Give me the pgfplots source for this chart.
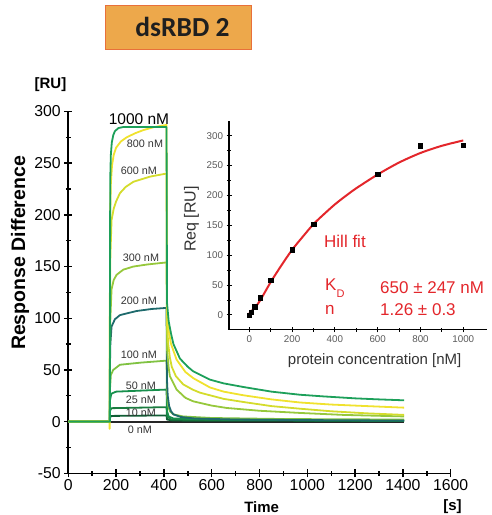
\documentclass[border=0pt]{standalone}
\usepackage{fontspec}
\setmainfont{Liberation Sans}
\newfontfamily\titlefont{Carlito}
\usepackage{pgfplots}
\pgfplotsset{compat=1.18}

\definecolor{titlefill}{HTML}{EDA84B}
\definecolor{titleedge}{HTML}{E8703A}
\definecolor{cA}{HTML}{1DA05A}  % 1000
\definecolor{cB}{HTML}{F0E22E}  % 800
\definecolor{cC}{HTML}{D4DC2C}  % 600
\definecolor{cD}{HTML}{96C83C}  % 300
\definecolor{cE}{HTML}{1E6A6C}  % 200
\definecolor{cF}{HTML}{80C242}  % 100
\definecolor{cG}{HTML}{178F4C}  % 50
\definecolor{cH}{HTML}{1B7D40}  % 25
\definecolor{cI}{HTML}{0F5E34}  % 10
\definecolor{fitred}{HTML}{E3262B}
\definecolor{lab}{HTML}{333333}

\newcommand\fs[1]{\fontsize{#1}{#1}\selectfont}

\begin{document}
\begin{tikzpicture}
\path[use as bounding box] (0pt,0pt) rectangle (491pt,515pt);

% title box
\draw[titleedge, line width=1pt, fill=titlefill] (105.3pt,465pt) rectangle (251.7pt,509.7pt);
\node[anchor=base, inner sep=0] at (182.5pt,478pt) {\titlefont\bfseries\fs{27.5}\color{black!88}dsRBD 2};

% sensorgrams
\begin{axis}[
  at={(68.3pt,41.7pt)}, anchor=south west,
  scale only axis, width=382.4pt, height=361.8pt,
  xmin=0, xmax=1600, ymin=-50, ymax=300,
  axis x line=bottom, axis y line=left,
  axis line style={-, line width=1.6pt},
  xtick={0,200,...,1600}, ytick={-50,0,...,300},
  minor x tick num=1, minor y tick num=1,
  tick align=center, major tick length=8pt, minor tick length=5pt,
  every tick/.style={black, line width=1.4pt},
  ticklabel style={font=\fs{15.8}},
  xticklabel style={yshift=1pt},
  /pgf/number format/assume math mode=true,
  /pgf/number format/set thousands separator={},
  every axis plot/.append style={line width=1.8pt, line join=round},
]
\addplot[black!85] coordinates {(0,0) (1405,0)};
\addplot[cI] coordinates {(0,0) (173,0) (174,4) (180,5.5) (411,6) (413,2) (440,1) (1405,0.5)};
\addplot[cH] coordinates {(0,0) (173,0) (174,10) (180,13) (411,14) (413,5) (430,2) (1405,1)};
\addplot[cG] coordinates {(0,0) (173,0) (174,20) (180,27) (200,29) (411,31) (413,10) (420,5) (440,3) (600,2) (1405,1)};
\addplot[cF] coordinates {(0,0) (173,0) (174,30) (178,45) (188,50) (216,55) (300,57) (411,59) (413,25) (418,15) (425,10) (440,7) (480,5) (600,3.5) (900,2.5) (1405,2)};
\addplot[cE] coordinates {(0,0) (173,0) (174,50) (176,75) (181,92) (195,99) (216,103) (250,105) (286,107) (350,109) (411,110) (413,40) (416,25) (422,15) (430,10) (440,7) (470,4.5) (530,3) (700,2) (1000,1.5) (1405,1)};
\addplot[cD] coordinates {(0,0) (173,0) (174,60) (176,100) (181,128) (190,137) (202,142) (230,147) (272,150) (330,152) (411,154) (413,70) (420,52) (425,44) (453,31) (490,23) (523,19.6) (600,15.5) (663,13.2) (800,10.5) (969,8.4) (1150,6.5) (1405,5)};
\addplot[cC] coordinates {(0,0) (173,0) (174,100) (176,160) (181,195) (190,206) (200,213) (216,221) (240,227) (272,232) (342,237) (411,240) (413,95) (418,75) (425,62) (433,53) (450,44) (481,36) (520,31) (551,28) (650,22) (732,19) (850,15) (969,12.5) (1100,10) (1250,8) (1405,6.5)};
\addplot[cB] coordinates {(0,0) (172,0) (173,-7) (174,120) (175,200) (178,230) (183,248) (190,258) (200,265) (220,271) (244,275) (280,279) (314,282) (360,285) (411,287) (413,110) (420,88) (430,75) (453,60) (490,48) (523,42) (593,33) (650,29) (732,25.5) (850,21.5) (969,18.5) (1100,16.5) (1250,15) (1405,13.5)};
\addplot[cA] coordinates {(0,0) (173,0) (174,0) (175,200) (176,240) (178,258) (182,270) (188,277) (195,281) (210,284) (230,285) (411,285) (413,115) (420,97) (430,85) (440,75) (467,61) (500,53) (523,48.6) (593,40.6) (650,37) (732,33.5) (850,29) (969,26) (1067,24.4) (1200,22.5) (1300,21.5) (1405,20.6)};
\end{axis}

% inset: Hill fit
\begin{axis}[
  at={(229pt,185.1pt)}, anchor=south west,
  scale only axis, width=257.8pt, height=209.2pt,
  xmin=-95, xmax=1110, ymin=-25, ymax=325,
  axis x line=bottom, axis y line=left,
  axis line style={-, line width=1.1pt},
  xtick={0,200,...,1000}, ytick={0,50,...,300},
  minor x tick num=1, minor y tick num=1,
  tick align=center, major tick length=5pt, minor tick length=3.5pt,
  every tick/.style={black, line width=1pt},
  ticklabel style={font=\fs{9.8}, text=black!65},
  /pgf/number format/assume math mode=true,
  /pgf/number format/set thousands separator={},
]
\addplot[fitred, line width=2pt, smooth] coordinates {(0,3) (25,12) (50,24) (100,55) (150,83) (200,109) (250,131) (300,152) (350,169) (400,185) (450,199) (500,212) (600,235) (700,255) (800,271) (900,283) (1000,292)};
\addplot[only marks, mark=square*, mark size=2.2pt, black] coordinates {(0,0) (10,5) (25,14) (50,29) (100,58) (200,109) (300,152) (600,235) (800,283) (1000,284)};
\end{axis}

% axis labels
\node[font=\bfseries\fs{15}] at (50.5pt,430pt) {[RU]};
\node[font=\bfseries\fs{19.5}, rotate=90] at (20pt,262pt) {Response Difference};
\node[font=\bfseries\fs{15}] at (261.7pt,8.3pt) {Time};
\node[font=\bfseries\fs{15}] at (452.5pt,8.3pt) {[s]};
\node[font=\fs{16}, text=lab, rotate=90] at (191.5pt,296pt) {Req [RU]};
\node[font=\fs{15}, text=lab] at (374.7pt,154.5pt) {protein concentration [nM]};

% concentration labels
\node[font=\fs{15.5}] at (139pt,396pt) {1000 nM};
\begin{scope}[every node/.style={font=\fs{10.8}, text=lab}]
\node at (145pt,371pt) {800 nM};
\node at (139pt,344pt) {600 nM};
\node at (141pt,257pt) {300 nM};
\node at (139pt,214pt) {200 nM};
\node at (139pt,160pt) {100 nM};
\node at (141pt,129pt) {50 nM};
\node at (141pt,115pt) {25 nM};
\node at (141pt,102pt) {10 nM};
\node at (140pt,85pt) {0 nM};
\end{scope}

% fit annotations
\begin{scope}[every node/.style={font=\fs{17}, text=fitred, anchor=west, inner sep=0}]
\node at (324pt,274pt) {Hill fit};
\node at (325pt,227pt) {K\raisebox{-0.45em}{\fs{11}D}};
\node at (380pt,227pt) {650 ± 247 nM};
\node at (325pt,205pt) {n};
\node at (380pt,205pt) {1.26 ± 0.3};
\end{scope}
\end{tikzpicture}
\end{document}
